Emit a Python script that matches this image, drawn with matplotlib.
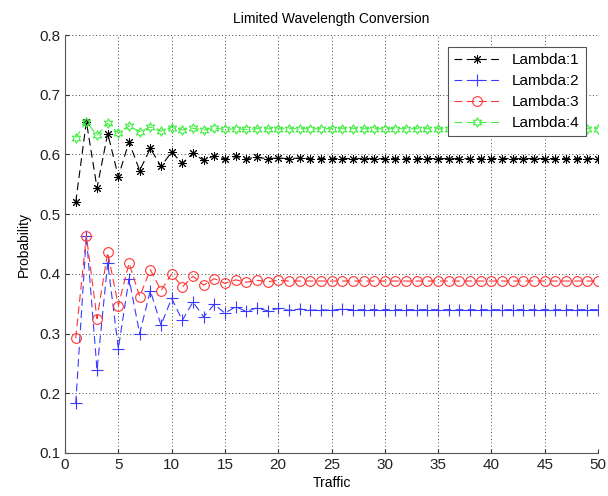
import matplotlib
matplotlib.use("Agg")
import matplotlib.pyplot as plt

traffic = list(range(1, 51))

lambda1 = [0.520, 0.655, 0.544, 0.635, 0.563, 0.621, 0.573, 0.610, 0.580, 0.604,
           0.585, 0.602, 0.590, 0.598, 0.592, 0.597, 0.593, 0.595, 0.593, 0.594,
           0.593, 0.594, 0.593, 0.593, 0.593, 0.593, 0.593, 0.593, 0.593, 0.593,
           0.593, 0.593, 0.593, 0.593, 0.593, 0.593, 0.593, 0.593, 0.593, 0.593,
           0.593, 0.593, 0.593, 0.593, 0.593, 0.593, 0.593, 0.593, 0.593, 0.593]
lambda2 = [0.183, 0.464, 0.239, 0.419, 0.275, 0.392, 0.300, 0.372, 0.314, 0.359,
           0.322, 0.353, 0.328, 0.349, 0.334, 0.345, 0.337, 0.343, 0.338, 0.342,
           0.339, 0.341, 0.339, 0.340, 0.339, 0.341, 0.340, 0.340, 0.340, 0.340,
           0.340, 0.340, 0.340, 0.340, 0.340, 0.340, 0.340, 0.340, 0.340, 0.340,
           0.340, 0.340, 0.340, 0.340, 0.340, 0.340, 0.340, 0.340, 0.340, 0.340]
lambda3 = [0.292, 0.464, 0.325, 0.436, 0.347, 0.418, 0.362, 0.407, 0.372, 0.400,
           0.378, 0.396, 0.381, 0.392, 0.384, 0.390, 0.386, 0.389, 0.387, 0.389,
           0.388, 0.388, 0.388, 0.388, 0.388, 0.388, 0.388, 0.388, 0.388, 0.388,
           0.388, 0.388, 0.388, 0.388, 0.388, 0.388, 0.388, 0.388, 0.388, 0.388,
           0.388, 0.388, 0.388, 0.388, 0.388, 0.388, 0.388, 0.388, 0.388, 0.388]
lambda4 = [0.628, 0.655, 0.632, 0.652, 0.636, 0.648, 0.638, 0.646, 0.639, 0.645,
           0.641, 0.644, 0.641, 0.644, 0.642, 0.643, 0.642, 0.643, 0.643, 0.643,
           0.643, 0.643, 0.643, 0.643, 0.643, 0.643, 0.643, 0.643, 0.643, 0.643,
           0.643, 0.643, 0.643, 0.643, 0.643, 0.643, 0.643, 0.643, 0.643, 0.643,
           0.643, 0.643, 0.643, 0.643, 0.643, 0.643, 0.643, 0.643, 0.643, 0.643]

plt.rcParams["font.family"] = ["Liberation Sans", "DejaVu Sans"]

fig = plt.figure(figsize=(6.08, 4.96), dpi=100)
ax = fig.add_axes([0.107, 0.0867, 0.8766, 0.8427])

dash = (0, (7, 4))
ax.plot(traffic, lambda1, linestyle=dash, color="black", linewidth=0.8,
        marker=(8, 2, 0), markersize=6.5, markeredgewidth=0.7, label="Lambda:1")
ax.plot(traffic, lambda2, linestyle=dash, color="#3b3bff", linewidth=0.8,
        marker="+", markersize=8, markeredgewidth=0.8, label="Lambda:2")
ax.plot(traffic, lambda3, linestyle=dash, color="#ff3535", linewidth=0.8,
        marker="o", markersize=7, markerfacecolor="none", markeredgewidth=0.8,
        label="Lambda:3")
ax.plot(traffic, lambda4, linestyle=dash, color="#3fee3f", linewidth=0.8,
        marker=(6, 1, 0), markersize=7, markerfacecolor="none", markeredgewidth=0.8,
        label="Lambda:4")

ax.set_xlim(0, 50)
ax.set_ylim(0.1, 0.8)
ax.set_xticks(range(0, 51, 5))
ax.set_yticks([0.1, 0.2, 0.3, 0.4, 0.5, 0.6, 0.7, 0.8])
ax.grid(True, linestyle=(0, (1, 2.5)), color="#444444", linewidth=0.7)
ax.spines["top"].set_visible(False)
ax.spines["right"].set_visible(False)
ax.spines["left"].set_color("#555555")
ax.spines["bottom"].set_color("#555555")
ax.tick_params(direction="in", labelsize=11, length=3, colors="#333333",
               labelcolor="#222222")

ax.set_title("Limited Wavelength Conversion", fontsize=10, pad=9)
ax.set_xlabel("Traffic", fontsize=10, labelpad=3)
ax.set_ylabel("Probability", fontsize=10, labelpad=6)

leg = ax.legend(loc="upper right", fontsize=11, frameon=True, fancybox=False,
                edgecolor="#555555", framealpha=1, handlelength=3,
                borderaxespad=0.8, labelspacing=0.45)
leg.get_frame().set_linewidth(0.8)

fig.savefig("out.png", dpi=100)
